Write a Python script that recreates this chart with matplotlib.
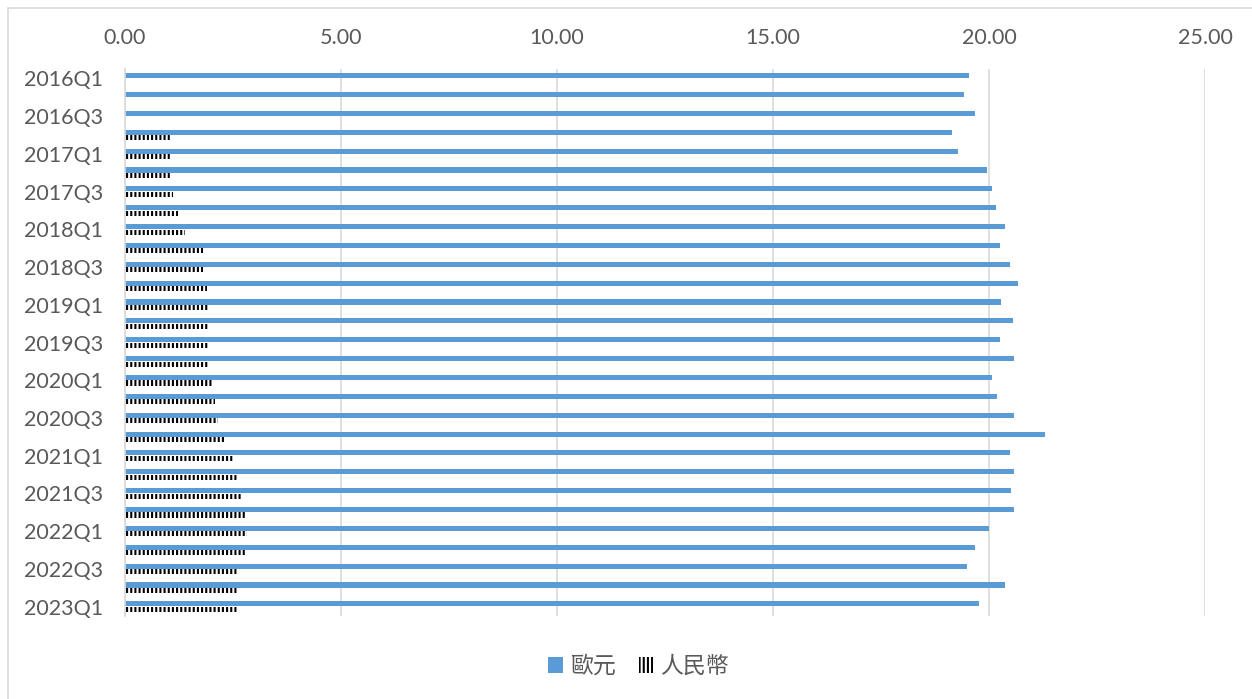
import numpy as np
import matplotlib.pyplot as plt
from matplotlib.patches import Patch, Rectangle

plt.rcParams['font.family'] = ['Lato', 'Noto Sans CJK TC', 'DejaVu Sans']
plt.rcParams['hatch.linewidth'] = 1.5

# quarters 2016Q1 .. 2023Q1
quarters = [f"{y}Q{q}" for y in range(2016, 2024) for q in range(1, 5)][:29]

# 歐元
eur = [19.54, 19.41, 19.68, 19.14, 19.28, 19.95, 20.06, 20.16, 20.36, 20.25,
       20.48, 20.67, 20.28, 20.56, 20.26, 20.59, 20.07, 20.19, 20.59, 21.29,
       20.49, 20.59, 20.52, 20.59, 19.99, 19.67, 19.50, 20.37, 19.78]

# 人民幣 (none before 2016Q4)
cny = [np.nan, np.nan, np.nan, 1.07, 1.07, 1.07, 1.12, 1.23, 1.40, 1.81,
       1.81, 1.89, 1.94, 1.91, 1.95, 1.91, 2.01, 2.08, 2.16, 2.29,
       2.51, 2.61, 2.69, 2.80, 2.82, 2.78, 2.61, 2.61, 2.59]

blue = '#5B9BD5'
grey_txt = '#595959'
grid_c = '#D9D9D9'

fig = plt.figure(figsize=(12.52, 6.99), dpi=100)
ax = fig.add_axes([125 / 1252, 1 - 616 / 699, 1080 / 1252, 547 / 699])

y = np.arange(len(quarters))
h = 0.27
ax.barh(y - 0.145, eur, height=h, color=blue, label='歐元')
ax.barh(y + 0.145, cny, height=h, facecolor='white', edgecolor='black',
        hatch='||||', linewidth=0, label='人民幣')

ax.set_xlim(0, 25)
ax.set_ylim(28.5, -0.5)
ax.set_xticks(np.arange(0, 26, 5))
ax.set_xticklabels([f"{v:.2f}" for v in np.arange(0, 26, 5)])
ax.xaxis.tick_top()
ax.set_yticks(y[::2])
ax.set_yticklabels(quarters[::2])
ax.tick_params(axis='both', length=0, labelsize=15.5, colors=grey_txt)
ax.tick_params(axis='x', pad=15)
ax.tick_params(axis='y', pad=16)

ax.grid(axis='x', color=grid_c, linewidth=1.2)
ax.set_axisbelow(True)
for s in ['top', 'right', 'bottom']:
    ax.spines[s].set_visible(False)
ax.spines['left'].set_color(grid_c)
ax.spines['left'].set_linewidth(1.2)

handles = [Patch(facecolor=blue, label='歐元'),
           Patch(facecolor='white', edgecolor='black', hatch='||||',
                 linewidth=0, label='人民幣')]
fig.legend(handles=handles, loc='center', bbox_to_anchor=(0.51, 0.047),
           ncol=2, frameon=False, fontsize=16.5, handlelength=0.65,
           handleheight=0.65, handletextpad=0.3, columnspacing=1.0,
           labelcolor=grey_txt)

# chart-area border (runs off the right and bottom of the image)
border = Rectangle((8 / 1252, -0.05), 1.1, 1 - 8 / 699 + 0.05,
                   transform=fig.transFigure, facecolor='none',
                   edgecolor=grid_c, linewidth=1.2)
fig.patches.append(border)

fig.savefig('out.png', dpi=100)
